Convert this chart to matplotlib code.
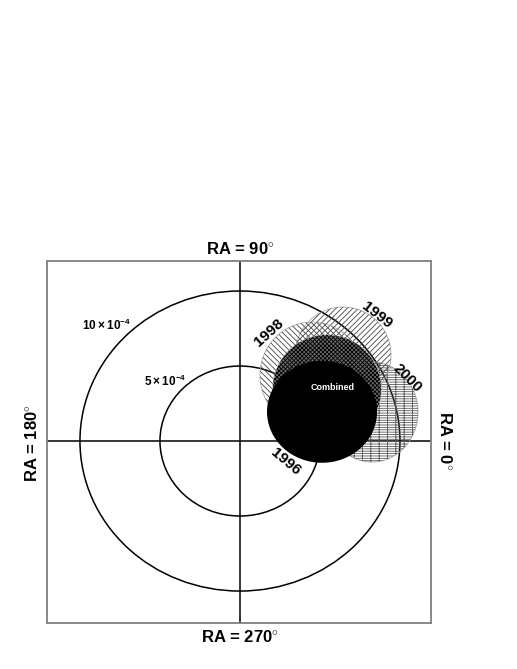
import matplotlib
matplotlib.use("Agg")
import matplotlib.pyplot as plt
from matplotlib.patches import Ellipse, Circle
import numpy as np

plt.rcParams['font.family'] = ['Liberation Sans', 'DejaVu Sans']
plt.rcParams['mathtext.fontset'] = 'custom'
plt.rcParams['mathtext.rm'] = 'Liberation Sans'
plt.rcParams['mathtext.bf'] = 'Liberation Sans:bold'
plt.rcParams['hatch.linewidth'] = 0.6

# amplitude circles (units of 1e-4)
circle_radii = [5, 10]
circle_labels = [r'$\mathbf{5\times10^{-4}}$', r'$\mathbf{10\times10^{-4}}$']
circle_label_x = [-4.69, -8.31]
circle_label_y = [4.0, 7.73]

# yearly confidence regions: centre (x, y) and half-widths, units of 1e-4
regions = ['2000', '1999', '1998', '1996', 'Combined']
region_x = [8.25, 6.44, 4.5, 5.44, 5.13]
region_y = [1.93, 5.73, 4.4, 3.47, 1.95]
region_rx = [2.88, 3.0, 3.25, 3.38, 3.44]
region_ry = [3.33, 3.2, 3.53, 3.6, 3.4]
region_hatch = ['-------||', '//////', '\\\\\\\\\\\\', 'xxxxxxxx', None]
region_face = ['none', 'none', 'none', '#6a6a6a', 'black']
region_hcol = ['#5a5a5a', '#444444', '#444444', 'black', 'black']

label_x = [10.44, 8.56, 1.81, 2.88, 5.81]
label_y = [4.2, 8.4, 7.2, -1.4, 3.6]
label_rot = [-45, -38, 42, -40, 0]

ra_labels = [r'RA = 90$^{\circ}$', r'RA = 270$^{\circ}$', r'RA = 180$^{\circ}$', r'RA = 0$^{\circ}$']

W, H = 517, 669
fig = plt.figure(figsize=(W / 100, H / 100), dpi=100)
ax = fig.add_axes([47 / W, 1 - 623 / H, (431 - 47) / W, (623 - 261) / H])
ax.set_xlim(-12.06, 11.94)
ax.set_ylim(-12.13, 12.0)
ax.set_xticks([])
ax.set_yticks([])
for s in ax.spines.values():
    s.set_color('#808080')
    s.set_linewidth(1.3)

ax.axhline(0, color='black', lw=1.1, zorder=1)
ax.axvline(0, color='black', lw=1.1, zorder=1)
for r in circle_radii:
    ax.add_patch(Circle((0, 0), r, fill=False, ec='black', lw=1.1, zorder=1))
for t, x, y in zip(circle_labels, circle_label_x, circle_label_y):
    ax.text(x, y, t, fontsize=8.5, ha='center', va='center')

for i, name in enumerate(regions):
    xy = (region_x[i], region_y[i])
    w, h = 2 * region_rx[i], 2 * region_ry[i]
    if region_hatch[i] is None:
        ax.add_patch(Ellipse(xy, w, h, fc=region_face[i], ec='black', lw=0, zorder=3 + i))
    else:
        ax.add_patch(Ellipse(xy, w, h, fc=region_face[i], ec='#aaaaaa', lw=0.6, zorder=3 + i))
        ax.add_patch(Ellipse(xy, w, h, fc='none', ec=region_hcol[i], lw=0,
                             hatch=region_hatch[i], zorder=3 + i))
    if name == 'Combined':
        ax.text(label_x[i], label_y[i], name, color='white', fontsize=6.5,
                fontweight='bold', ha='center', va='center', zorder=20)
    else:
        ax.text(label_x[i], label_y[i], name, color='black', fontsize=11,
                fontweight='bold', ha='center', va='center', rotation=label_rot[i],
                rotation_mode='anchor', zorder=20)

fig.text(240 / W, 1 - 250 / H, ra_labels[0], fontsize=12, fontweight='bold', ha='center', va='center')
fig.text(240 / W, 1 - 638 / H, ra_labels[1], fontsize=12, fontweight='bold', ha='center', va='center')
fig.text(33 / W, 1 - 443 / H, ra_labels[2], fontsize=12, fontweight='bold', ha='center', va='center', rotation=90)
fig.text(444 / W, 1 - 441 / H, ra_labels[3], fontsize=12, fontweight='bold', ha='center', va='center', rotation=-90)

fig.savefig('out.png', dpi=100)
